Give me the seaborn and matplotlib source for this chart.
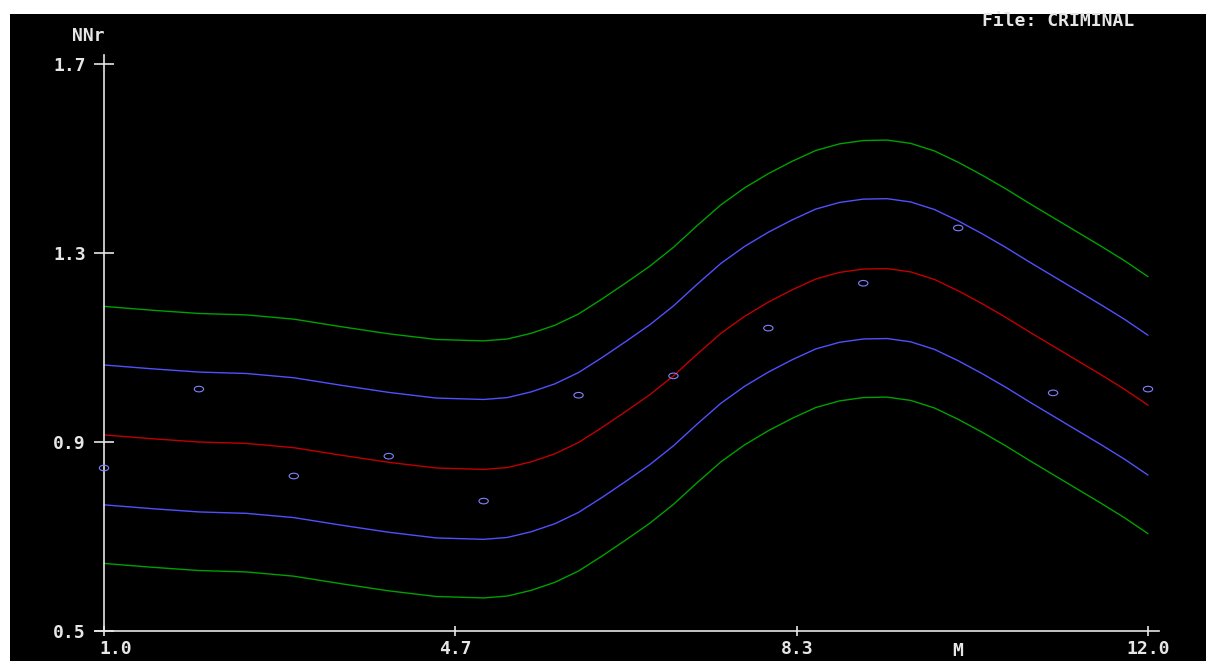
import numpy as np
import pandas as pd
import matplotlib.pyplot as plt
from matplotlib.patches import Rectangle
from matplotlib.path import Path
from matplotlib.transforms import ScaledTranslation, Affine2D
import seaborn as sns

# ------ Dados ------ #

# valores observados por mês
meses = [1, 2, 3, 4, 5, 6, 7, 8, 9, 10, 11, 12]
nnr_obs = [0.845, 1.012, 0.828, 0.870, 0.775, 0.999, 1.040, 1.141, 1.236, 1.353, 1.004, 1.012]

# curva central (vermelha) (mais pontos onde ela curva)
m_curva = [1.0, 1.5, 2.0, 2.5, 3.0, 3.5, 4.0, 4.5, 5.0, 5.25, 5.5, 5.75,
           6.0, 6.25, 6.5, 6.75, 7.0, 7.25, 7.5, 7.75, 8.0, 8.25, 8.5, 8.75,
           9.0, 9.25, 9.5, 9.75, 10.0, 10.25, 10.5, 10.75, 11.0, 11.25, 11.5, 11.75, 12.0]
nnr_curva = [0.915, 0.907, 0.900, 0.897, 0.888, 0.872, 0.857, 0.845, 0.842, 0.846, 0.858, 0.875,
             0.899, 0.931, 0.965, 1.000, 1.040, 1.086, 1.130, 1.166, 1.196, 1.222, 1.245, 1.259,
             1.266, 1.267, 1.260, 1.244, 1.220, 1.193, 1.164, 1.133, 1.103, 1.073, 1.043, 1.012, 0.978]

# meia-largura das faixas (azul = interna, verde = externa)
faixa_interna = 0.148
faixa_externa = 0.272

# eixos
yticks = [0.5, 0.9, 1.3, 1.7]
ytick_labels = ["0.5", "0.9", "1.3", "1.7"]
xticks = [1.0, 4.7, 8.3, 12.0]
xtick_labels = ["1.0", "4.7", "8.3", "12.0"]

# ------ Monta as faixas ------ #
curva = pd.DataFrame({"M": m_curva, "centro": nnr_curva})
curva["sup_ext"] = curva["centro"] + faixa_externa
curva["sup_int"] = curva["centro"] + faixa_interna
curva["inf_int"] = curva["centro"] - faixa_interna
curva["inf_ext"] = curva["centro"] - faixa_externa
longo = curva.melt(id_vars="M", var_name="faixa", value_name="NNr")

obs = pd.DataFrame({"M": meses, "NNr": nnr_obs})

cores = {"centro": "#c00000", "sup_int": "#5050ff", "inf_int": "#5050ff",
         "sup_ext": "#00a000", "inf_ext": "#00a000"}

# ------ Figura ------ #
sns.set_style("dark")
plt.rcParams["font.family"] = ["DejaVu Sans Mono"]
plt.rcParams["font.weight"] = "bold"
branco = "#e6e6e6"

W, H = 1206, 661
fig = plt.figure(figsize=(W / 100, H / 100), dpi=100, facecolor="white")
fig.patches.append(Rectangle((10 / W, 0), 1, (H - 14) / H, transform=fig.transFigure,
                             facecolor="black", edgecolor="none", zorder=-10))

# escala: x=1 -> px 104, x=12 -> px 1148 ; y=0.5 -> px 631, y=1.7 -> px 64
px_x = 1044 / 11
px_y = 567 / 1.2
x0, x1 = 0.9, 12.12
y0, y1 = 0.5, 1.72
left = 104 - (1 - x0) * px_x
right = 104 + (x1 - 1) * px_x
top = 631 - (y1 - 0.5) * px_y
ax = fig.add_axes([left / W, (H - 631) / H, (right - left) / W, (631 - top) / H])
ax.set_facecolor("black")

sns.lineplot(data=longo, x="M", y="NNr", hue="faixa", units="faixa", estimator=None,
             palette=cores, linewidth=1.0, legend=False, ax=ax)

elipse = Path.unit_circle().transformed(Affine2D().scale(1.0, 0.6))
sns.scatterplot(data=obs, x="M", y="NNr", marker=elipse, s=45, facecolor="none",
                edgecolor="#8080ff", linewidth=0.8, ax=ax, zorder=5)

for lado in ["top", "right"]:
    ax.spines[lado].set_visible(False)
ax.spines["left"].set_position(("data", 1.0))
for lado in ["left", "bottom"]:
    ax.spines[lado].set_color(branco)
    ax.spines[lado].set_linewidth(1.2)

ax.set_xlim(x0, x1)
ax.set_ylim(y0, y1)
ax.set_yticks(yticks)
ax.set_yticklabels(ytick_labels)
ax.set_xticks(xticks)
ax.set_xticklabels(xtick_labels)
ax.tick_params(axis="y", left=True, direction="inout", length=14, width=1.2, color=branco,
               labelcolor=branco, labelsize=13, pad=6)
ax.tick_params(axis="x", bottom=True, direction="inout", length=7, width=1.2, color=branco,
               labelcolor=branco, labelsize=13, pad=3)
ax.grid(False)
ax.set_xlabel("")
ax.set_ylabel("")

# primeiro rótulo deslocado para a direita, como no original
rot = ax.get_xticklabels()[0]
rot.set_transform(rot.get_transform() + ScaledTranslation(0.12, 0, fig.dpi_scale_trans))

ax.text(10.0, -0.035, "M", transform=ax.get_xaxis_transform(), ha="center", va="center",
        color=branco, fontsize=13, fontweight="bold")
fig.text(88 / W, 1 - 36 / H, "NNr", ha="center", va="center", color=branco,
         fontsize=13, fontweight="bold")
fig.text(1058 / W, 1 - 21 / H, "File: CRIMINAL", ha="center", va="center", color=branco,
         fontsize=13, fontweight="bold")

fig.savefig("out.png", dpi=100, facecolor=fig.get_facecolor())
